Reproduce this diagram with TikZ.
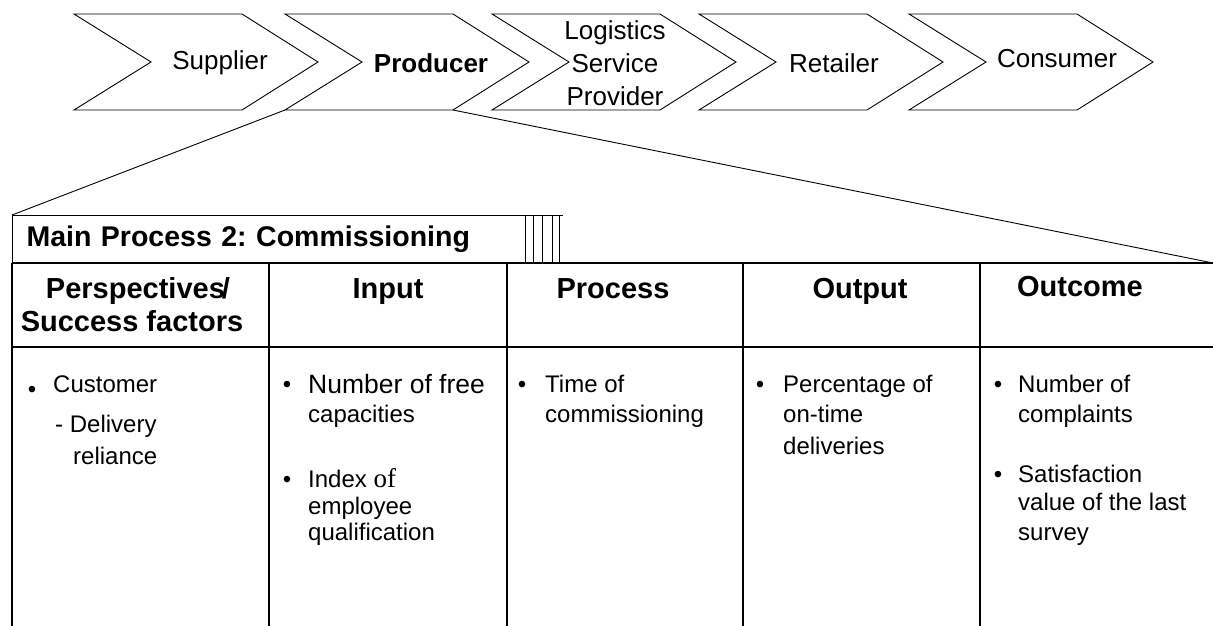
\documentclass[tikz,border=0pt]{standalone}
\usepackage{fontspec}
\setmainfont{Liberation Sans}
\newfontfamily\serifof{Liberation Serif}
\usetikzlibrary{positioning,calc}
\frenchspacing
\tikzset{
  chevron/.style={draw, line width=0.9pt, line join=miter},
  chevtext/.style={font=\fontsize{26}{33}\selectfont, align=center, inner sep=0pt},
  zoomline/.style={line width=0.9pt},
  tabline/.style={line width=1.5pt},
  tabthin/.style={line width=0.7pt},
  titlebox/.style={draw, line width=1.1pt, anchor=north west, minimum height=48pt,
    text width=485pt, inner xsep=14pt, align=left, font=\bfseries\fontsize{28.5}{33}\selectfont},
  headtext/.style={font=\bfseries\fontsize{29}{33}\selectfont, align=center, anchor=base, inner sep=0pt},
  celltext/.style={font=\fontsize{24}{30}\selectfont, anchor=base west, align=left, inner sep=0pt},
  bulletmark/.style={font=\fontsize{24}{30}\selectfont, anchor=base, inner sep=0pt}
}
\begin{document}
\begin{tikzpicture}[x=1pt, y=-1pt]
  \useasboundingbox (0,0) rectangle (1213,626);
  % value chain
  \foreach \nm/\lx/\tx/\ty/\txt in {sup/74/220/63/Supplier, prod/285/431/63/{\textbf{Producer}},
      lsp/492/615/63/{Logistics\\Service\\Provider}, ret/699/834/63/Retailer, con/909/1057/59/Consumer}{
    \draw[chevron] (\lx,14) -- ++(168,0) -- ++(76,48) -- ++(-76,48) -- ++(-168,0) -- ++(77,-48) -- cycle;
    \coordinate (\nm-bl) at (\lx,110);
    \coordinate (\nm-br) at (\lx+168,110);
    \node[chevtext] (\nm) at (\tx,\ty) {\txt};
  }
  % main process table
  \node[titlebox] (title) at (12,215) {Main Process 2: Commissioning};
  \draw[tabthin] (title.north east) -- ++(37,0);
  \foreach \x in {533,542,552,559}
    \draw[tabthin] (\x,215) -- (\x,263);
  \coordinate (tab-nw) at (12,263);
  \coordinate (tab-ne) at (1213,263);
  \coordinate (tab-mw) at (12,347);
  \coordinate (tab-me) at (1213,347);
  \draw[tabline] (tab-nw) -- (tab-ne);
  \draw[tabline] (tab-mw) -- (tab-me);
  \foreach \x in {12,269,507,743,980}
    \draw[tabline] (\x,263) -- (\x,626);
  % zoom from producer
  \draw[zoomline] (prod-bl) -- (title.north west);
  \draw[zoomline] (prod-br) -- (tab-ne);
  % headers
  \node[headtext] (h-persp) at (138,298) {Perspectives\kern-3pt/};
  \node[headtext] (h-succ) at (132,331) {Success factors};
  \node[headtext] (h-input) at (388,298) {Input};
  \node[headtext] (h-proc) at (613,298) {Process};
  \node[headtext] (h-out) at (860,298) {Output};
  \node[headtext] (h-outc) at (1080,296) {Outcome};
  % cells
  \node[bulletmark] (b1) at (32,397) {\textbullet};
  \node[celltext] (c1a) at (53,392) {Customer};
  \node[celltext] (c1b) at (55,432) {- Delivery};
  \node[celltext] (c1c) at (73,464) {reliance};
  \node[bulletmark] (b2a) at (287,392) {\textbullet};
  \node[celltext, font=\fontsize{26.5}{30}\selectfont] (c2a) at (308,393) {Number of free};
  \node[celltext] (c2b) at (308,422) {capacities};
  \node[bulletmark] (b2b) at (287,487) {\textbullet};
  \node[celltext] (c2c) at (308,487) {Index {\serifof\fontsize{27}{30}\selectfont of}};
  \node[celltext] (c2d) at (308,514) {employee};
  \node[celltext] (c2e) at (308,540) {qualification};
  \node[bulletmark] (b3) at (522,392) {\textbullet};
  \node[celltext] (c3a) at (545,392) {Time of};
  \node[celltext] (c3b) at (545,422) {commissioning};
  \node[bulletmark] (b4) at (760,392) {\textbullet};
  \node[celltext] (c4a) at (783,392) {Percentage of};
  \node[celltext] (c4b) at (783,422) {on-time};
  \node[celltext] (c4c) at (783,454) {deliveries};
  \node[bulletmark] (b5a) at (998,392) {\textbullet};
  \node[celltext] (c5a) at (1018,392) {Number of};
  \node[celltext] (c5b) at (1018,422) {complaints};
  \node[bulletmark] (b5b) at (998,482) {\textbullet};
  \node[celltext] (c5c) at (1018,482) {Satisfaction};
  \node[celltext] (c5d) at (1018,510) {value of the last};
  \node[celltext] (c5e) at (1018,540) {survey};
\end{tikzpicture}
\end{document}
